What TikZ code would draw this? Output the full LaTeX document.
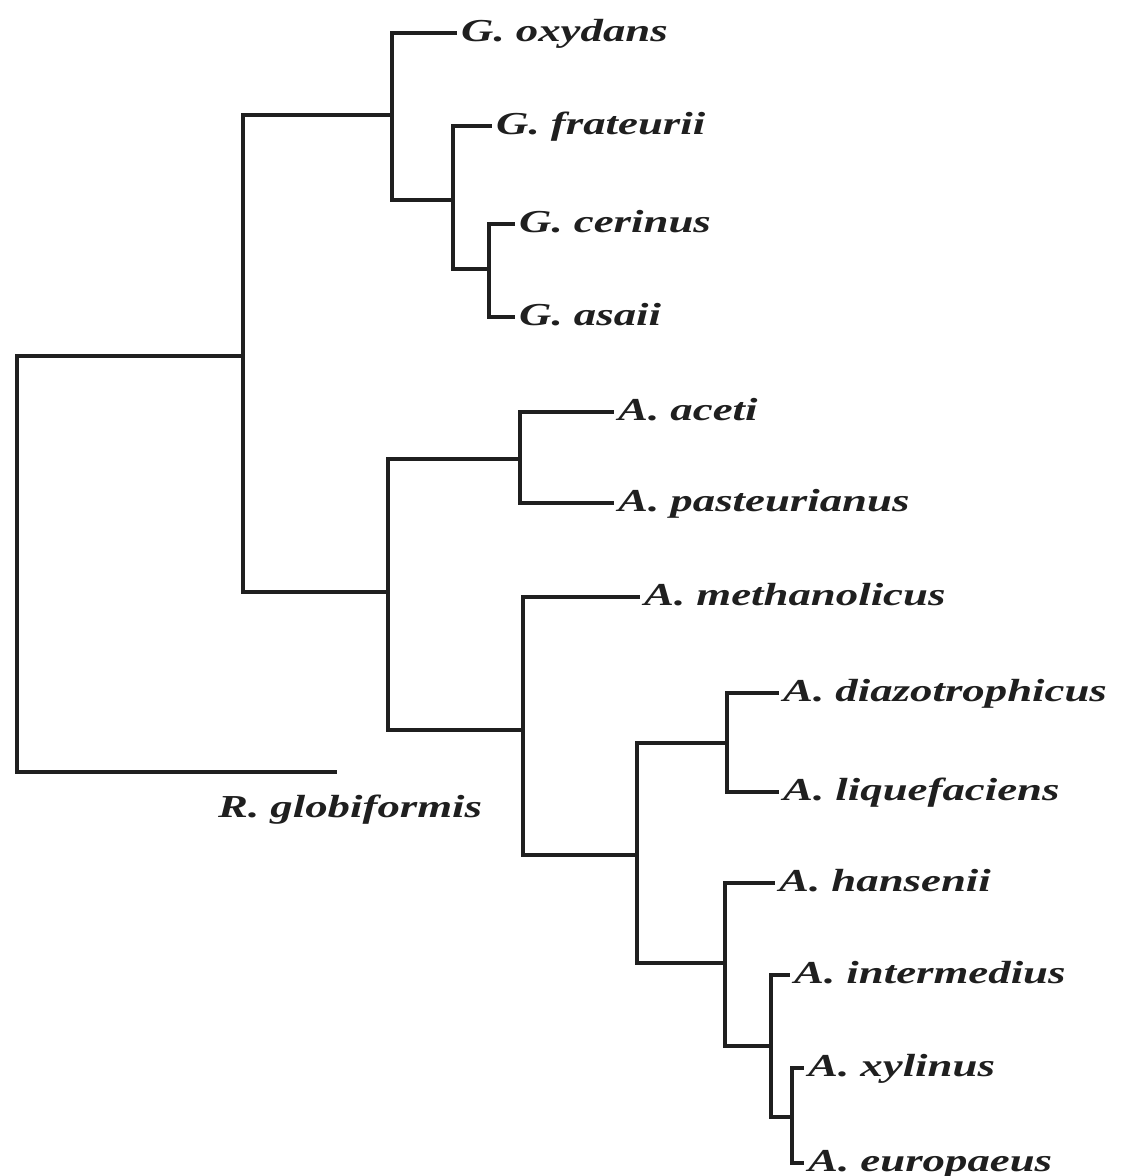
\documentclass[tikz,border=0pt]{standalone}
\usepackage{fontspec}
\usepackage{graphicx}
\setmainfont{Liberation Serif}
\usetikzlibrary{positioning}
\newcommand{\taxname}[1]{\scalebox{1.4}[1]{#1}}

\begin{document}
\begin{tikzpicture}[x=1pt,y=-1pt,
        branch/.style={draw=black!88,line width=3.4pt,line cap=rect},
        taxon/.style={anchor=base west,inner sep=0pt,text=black!88,
                      font=\fontsize{32}{38}\selectfont\bfseries\itshape},
        leaf/.style={taxon,xshift=6pt,yshift=-8pt}
      ]
        \useasboundingbox (0,0) rectangle (1121,1176);
        % inner nodes
        \coordinate (root) at (17,564);
        \coordinate (n1) at (243,356);
        \coordinate (n2) at (392,115);
        \coordinate (n3) at (453,200);
        \coordinate (n4) at (489,269);
        \coordinate (n6) at (388,592);
        \coordinate (n7) at (520,459);
        \coordinate (n8) at (523,730);
        \coordinate (n9) at (637,855);
        \coordinate (n10) at (727,743);
        \coordinate (n11) at (725,963);
        \coordinate (n12) at (771,1046);
        \coordinate (n13) at (792,1117);
        % tips
        \coordinate (trglo) at (335,772);
        \coordinate (toxy) at (455,33);
        \coordinate (tfra) at (490,126);
        \coordinate (tcer) at (513,224);
        \coordinate (tasa) at (513,317);
        \coordinate (tace) at (612,412);
        \coordinate (tpas) at (612,503);
        \coordinate (tmet) at (638,597);
        \coordinate (tdia) at (777,693);
        \coordinate (tliq) at (777,792);
        \coordinate (than) at (773,883);
        \coordinate (tint) at (788,975);
        \coordinate (txyl) at (802,1068);
        \coordinate (teur) at (802,1163);
        % labels
        \node[leaf] (oxy) at (toxy) {\taxname{G. oxydans}};
        \node[leaf] (fra) at (tfra) {\taxname{G. frateurii}};
        \node[leaf] (cer) at (tcer) {\taxname{G. cerinus}};
        \node[leaf] (asa) at (tasa) {\taxname{G. asaii}};
        \node[leaf] (ace) at (tace) {\taxname{A. aceti}};
        \node[leaf] (pas) at (tpas) {\taxname{A. pasteurianus}};
        \node[leaf] (met) at (tmet) {\taxname{A. methanolicus}};
        \node[leaf] (dia) at (tdia) {\taxname{A. diazotrophicus}};
        \node[leaf] (liq) at (tliq) {\taxname{A. liquefaciens}};
        \node[leaf] (han) at (than) {\taxname{A. hansenii}};
        \node[leaf] (int) at (tint) {\taxname{A. intermedius}};
        \node[leaf] (xyl) at (txyl) {\taxname{A. xylinus}};
        \node[leaf] (eur) at (teur) {\taxname{A. europaeus}};
        \node[taxon] (rglo) at (218,817) {\taxname{R. globiformis}};
        % branches
        \draw[branch] (root) |- (n1); \draw[branch] (root) |- (trglo);
        \draw[branch] (n1) |- (n2); \draw[branch] (n1) |- (n6);
        \draw[branch] (n2) |- (toxy); \draw[branch] (n2) |- (n3);
        \draw[branch] (n3) |- (tfra); \draw[branch] (n3) |- (n4);
        \draw[branch] (n4) |- (tcer); \draw[branch] (n4) |- (tasa);
        \draw[branch] (n6) |- (n7); \draw[branch] (n6) |- (n8);
        \draw[branch] (n7) |- (tace); \draw[branch] (n7) |- (tpas);
        \draw[branch] (n8) |- (tmet); \draw[branch] (n8) |- (n9);
        \draw[branch] (n9) |- (n10); \draw[branch] (n9) |- (n11);
        \draw[branch] (n10) |- (tdia); \draw[branch] (n10) |- (tliq);
        \draw[branch] (n11) |- (than); \draw[branch] (n11) |- (n12);
        \draw[branch] (n12) |- (tint); \draw[branch] (n12) |- (n13);
        \draw[branch] (n13) |- (txyl); \draw[branch] (n13) |- (teur);
      \end{tikzpicture}
\end{document}
